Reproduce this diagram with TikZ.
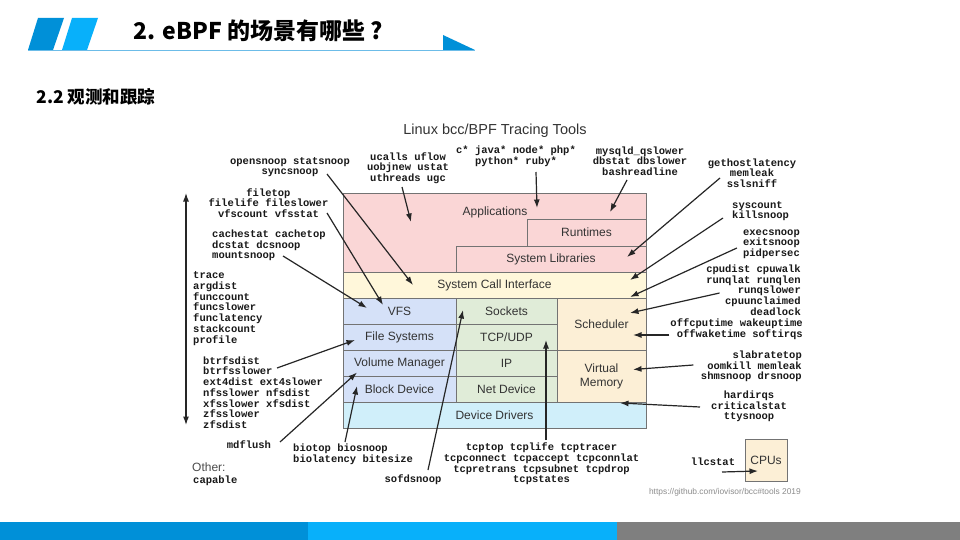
\documentclass[tikz,border=0pt]{standalone}
\usepackage{fontspec}
\usepackage{xcolor}
\usepackage{tikz}
\usetikzlibrary{arrows.meta, positioning}

\newfontfamily\boxfont{Liberation Sans}
\newfontfamily\toolfont{Liberation Mono}
\newfontfamily\cjkfont{Noto Sans CJK SC}

\definecolor{apppink}{HTML}{FAD6D6}
\definecolor{sysyellow}{HTML}{FFF7DA}
\definecolor{fsblue}{HTML}{D5E1F8}
\definecolor{netgreen}{HTML}{E0ECD8}
\definecolor{cpucream}{HTML}{FCEFD6}
\definecolor{drvcyan}{HTML}{D0EFFA}
\definecolor{hdrdark}{HTML}{0090D8}
\definecolor{hdrlight}{HTML}{08B0FA}
\definecolor{hdrline}{HTML}{6CBCE8}
\definecolor{bargray}{HTML}{7F7F7F}

\begin{document}
\begin{tikzpicture}[
  x=1pt, y=-1pt,
  layer/.style={rectangle, draw=black!55, line width=0.8pt, outer sep=0pt, inner sep=0pt,
                font=\boxfont\fontsize{12}{14}\selectfont, text=black!80},
  appbox/.style={layer, fill=apppink},
  sysbox/.style={layer, fill=sysyellow},
  fsbox/.style={layer, fill=fsblue, minimum width=113pt, minimum height=26pt},
  netbox/.style={layer, fill=netgreen, minimum width=101pt, minimum height=26pt},
  cpubox/.style={layer, fill=cpucream},
  drvbox/.style={layer, fill=drvcyan},
  tool/.style={font=\toolfont\bfseries\fontsize{10.5}{10.7}\selectfont, inner sep=0pt, text=black!90},
  arr/.style={-{Latex[length=8.5pt,width=6pt]}, line width=1.2pt, draw=black!85}
]

\useasboundingbox (0,0) rectangle (960,540);
\fill[white] (0,0) rectangle (960,540);

% slide header
\fill[hdrdark] (38,18) -- (64,18) -- (53,50) -- (28,50) -- cycle;
\fill[hdrlight] (72,18) -- (98,18) -- (87,50) -- (62,50) -- cycle;
\draw[hdrline, line width=0.8pt] (28,50) -- (475,50);
\fill[hdrdark] (443,35) -- (475,50) -- (443,50) -- cycle;
\node[anchor=west, font=\cjkfont\bfseries\fontsize{23}{27}\selectfont] (slidetitle) at (130,31) {2. eBPF 的场景有哪些 ?};
\node[anchor=west, font=\cjkfont\bfseries\fontsize{17.5}{21}\selectfont] (subtitle) at (33,97) {2.2 观测和跟踪};

% slide footer
\fill[hdrdark] (0,522) rectangle (308,540);
\fill[hdrlight] (308,522) rectangle (617,540);
\fill[bargray] (617,522) rectangle (960,540);

\node[font=\boxfont\fontsize{14.5}{16}\selectfont, text=black!80] (bcctitle) at (495,131) {Linux bcc/BPF Tracing Tools};

% software stack
\node[appbox, minimum width=303pt, minimum height=79pt, anchor=north west] (apps) at (343,193) {};
\node[font=\boxfont\fontsize{12}{14}\selectfont, text=black!80] (appstext) at (495,212) {Applications};
\node[appbox, minimum width=119pt, minimum height=27pt, anchor=north east] (runtimes) at (646,219) {Runtimes};
\node[appbox, minimum width=190pt, minimum height=26pt, below left=0pt of runtimes.south east] (syslibs) {System Libraries};
\node[sysbox, minimum width=303pt, minimum height=26pt, anchor=north west] (syscall) at (343,272) {System Call Interface};

\node[fsbox, below right=0pt of syscall.south west] (vfs) {VFS};
\node[fsbox, below=0pt of vfs] (filesys) {File Systems};
\node[fsbox, below=0pt of filesys] (volmgr) {Volume Manager};
\node[fsbox, below=0pt of volmgr] (blockdev) {Block Device};

\node[netbox, right=0pt of vfs] (sockets) {Sockets};
\node[netbox, below=0pt of sockets] (tcpudp) {TCP/UDP};
\node[netbox, below=0pt of tcpudp] (ip) {IP};
\node[netbox, below=0pt of ip] (netdev) {Net Device};

\node[cpubox, minimum width=89pt, minimum height=52pt, below left=0pt of syscall.south east] (sched) {Scheduler};
\node[cpubox, minimum width=89pt, minimum height=52pt, below=0pt of sched, align=center] (vmem) {Virtual\\Memory};

\node[drvbox, minimum width=303pt, minimum height=26pt, below right=0pt of blockdev.south west] (drivers) {Device Drivers};

\node[cpubox, minimum width=42pt, minimum height=42pt] (cpus) at (766,460) {CPUs};

% tool groups
\node[tool, align=center] (opensnoop) at (290,167) {opensnoop statsnoop\\syncsnoop};
\node[tool, align=center] (ucalls) at (408,168) {ucalls uflow\\uobjnew ustat\\uthreads ugc};
\node[tool, align=center] (langs) at (516,156.5) {c* java* node* php*\\python* ruby*};
\node[tool, align=center] (mysqld) at (640,161) {mysqld\_qslower\\dbstat dbslower\\bashreadline};
\node[tool, align=center] (gethost) at (752,173) {gethostlatency\\memleak\\sslsniff};
\node[tool, align=left, anchor=west] (syscount) at (732,211) {syscount\\killsnoop};
\node[tool, align=right, anchor=east] (execsnoop) at (800,244) {execsnoop\\exitsnoop\\pidpersec};
\node[tool, align=right, anchor=east] (cpudist) at (801,290) {cpudist cpuwalk\\runqlat runqlen\\runqslower\\cpuunclaimed\\deadlock};
\node[tool, align=right, anchor=east] (offcpu) at (803,329.5) {offcputime wakeuptime\\offwaketime softirqs};
\node[tool, align=right, anchor=east] (slabtop) at (802,366.5) {slabratetop\\oomkill memleak\\shmsnoop drsnoop};
\node[tool, align=center] (hardirqs) at (749,406.5) {hardirqs\\criticalstat\\ttysnoop};
\node[tool] (llcstat) at (713,462) {llcstat};
\node[tool, align=center] (tcptop) at (541.5,464) {tcptop tcplife tcptracer\\tcpconnect tcpaccept tcpconnlat\\tcpretrans tcpsubnet tcpdrop\\tcpstates};
\node[tool] (sofdsnoop) at (413,480) {sofdsnoop};
\node[tool, align=left, anchor=west] (biotop) at (293,454.5) {biotop biosnoop\\biolatency bitesize};
\node[tool] (mdflush) at (249,445) {mdflush};
\node[tool, align=left, anchor=west] (trace) at (193,308.5) {trace\\argdist\\funccount\\funcslower\\funclatency\\stackcount\\profile};
\node[tool, align=left, anchor=west] (btrfs) at (203,392.5) {btrfsdist\\btrfsslower\\ext4dist ext4slower\\nfsslower nfsdist\\xfsslower xfsdist\\zfsslower\\zfsdist};
\node[tool, align=left, anchor=west] (cachestat) at (212,245.5) {cachestat cachetop\\dcstat dcsnoop\\mountsnoop};
\node[tool, align=center] (filetop) at (268.5,203) {filetop\\filelife fileslower\\vfscount vfsstat};
\node[anchor=west, inner sep=0pt, font=\boxfont\fontsize{12}{14}\selectfont, text=black!70] (other) at (192,467) {Other:};
\node[tool, anchor=west] (capable) at (193,481) {capable};

\node[anchor=east, inner sep=0pt, font=\boxfont\fontsize{8.4}{10}\selectfont, text=black!45] (ghref) at (801,492) {https://github.com/iovisor/bcc\#tools 2019};

% arrows
\coordinate (stacktop) at (186,193);
\coordinate (stackbot) at (186,425);
\draw[arr, {Latex[length=8.5pt,width=6pt]}-{Latex[length=8.5pt,width=6pt]}] (stacktop) -- (stackbot);

\draw[arr] ([shift={(37,7)}]opensnoop.center)    -- ([shift={(-81.5,0)}]syscall.center);
\draw[arr] ([shift={(-6,19)}]ucalls.center)      -- ([shift={(-83.5,-10.5)}]apps.center);
\draw[arr] ([shift={(20,15.5)}]langs.center)     -- ([shift={(42.5,-24.5)}]apps.center);
\draw[arr] ([shift={(-13,19)}]mysqld.center)     -- ([shift={(115.5,-20.5)}]apps.center);
\draw[arr] ([shift={(-32,5)}]gethost.center)     -- ([shift={(76,-2)}]syslibs.center);
\draw[arr] ([shift={(-9,7)}]syscount.west)       -- ([shift={(135.5,-5)}]syscall.center);
\draw[arr] ([shift={(-6,4)}]execsnoop.west)      -- ([shift={(135.5,12)}]syscall.center);
\draw[arr] ([shift={(13.5,3)}]cpudist.west)      -- ([shift={(28.5,-11)}]sched.center);
\draw[arr] ([shift={(-1,5.5)}]offcpu.west)       -- ([shift={(31.5,11)}]sched.center);
\draw[arr] ([shift={(-7.5,-1.5)}]slabtop.west)   -- ([shift={(31.5,-6.5)}]vmem.center);
\draw[arr] ([shift={(-11,0.5)}]hardirqs.west)    -- ([shift={(125.5,-12)}]drivers.center);
\draw[arr] ([shift={(9,10)}]llcstat.center)      -- ([shift={(-8,11)}]cpus.center);
\draw[arr] ([shift={(4.5,-24)}]tcptop.center)    -- ([shift={(39.5,3)}]tcpudp.center);
\draw[arr] ([shift={(15,-10)}]sofdsnoop.center)  -- ([shift={(-43.5,-1)}]sockets.center);
\draw[arr] ([shift={(52,-12.5)}]biotop.west)     -- ([shift={(-42.5,-3)}]blockdev.center);
\draw[arr] ([shift={(31,-3)}]mdflush.center)     -- ([shift={(-42.5,9.5)}]volmgr.center);
\draw[arr] ([shift={(74,-24.5)}]btrfs.west)      -- ([shift={(-44.5,3)}]filesys.center);
\draw[arr] ([shift={(58.5,10)}]filetop.center)   -- ([shift={(-16.5,-6)}]vfs.center);
\draw[arr] ([shift={(71,10.5)}]cachestat.west)   -- ([shift={(-32.5,-3)}]vfs.center);

\end{tikzpicture}
\end{document}
